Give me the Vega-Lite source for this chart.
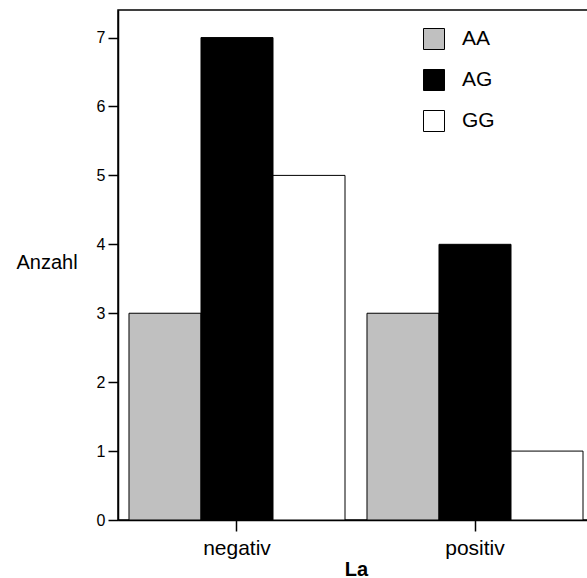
{
  "$schema": "https://vega.github.io/schema/vega-lite/v6.json",
  "width": 476,
  "height": 510,
  "autosize": {"type": "none"},
  "padding": {"left": 118, "top": 10, "right": 0, "bottom": 58},
  "background": "white",
  "config": {
    "font": "Liberation Sans",
    "view": {"stroke": "black", "strokeWidth": 1.5}
  },
  "data": {
    "values": [
      {"La": "negativ", "Genotyp": "AA", "Anzahl": 3},
      {"La": "negativ", "Genotyp": "AG", "Anzahl": 7},
      {"La": "negativ", "Genotyp": "GG", "Anzahl": 5},
      {"La": "positiv", "Genotyp": "AA", "Anzahl": 3},
      {"La": "positiv", "Genotyp": "AG", "Anzahl": 4},
      {"La": "positiv", "Genotyp": "GG", "Anzahl": 1}
    ]
  },
  "mark": {"type": "bar", "stroke": "black", "strokeWidth": 1, "fillOpacity": 1},
  "encoding": {
    "x": {
      "field": "La",
      "type": "nominal",
      "scale": {"paddingInner": 0.0924, "paddingOuter": 0.0462},
      "axis": {
        "title": "La",
        "titleFont": "Liberation Sans",
        "titleFontSize": 20,
        "titleFontWeight": "bold",
        "titleColor": "black",
        "titlePadding": 1,
        "labelAngle": 0,
        "labelFontSize": 21,
        "labelColor": "black",
        "labelPadding": 6,
        "tickSize": 11,
        "tickColor": "black",
        "tickWidth": 1.5,
        "domainColor": "black",
        "domainWidth": 1.5
      }
    },
    "xOffset": {"field": "Genotyp", "type": "nominal", "scale": {"paddingInner": 0, "paddingOuter": 0}},
    "y": {
      "field": "Anzahl",
      "type": "quantitative",
      "scale": {"domain": [0, 7.4], "nice": false},
      "axis": {
        "values": [0, 1, 2, 3, 4, 5, 6, 7],
        "title": "Anzahl",
        "titleAngle": 0,
        "titleAlign": "left",
        "titleBaseline": "middle",
        "titleX": -102,
        "titleY": 252,
        "titleFontSize": 20,
        "titleFontWeight": "normal",
        "titleColor": "black",
        "labelFontSize": 16,
        "labelColor": "black",
        "labelPadding": 3,
        "tickSize": 10,
        "tickColor": "black",
        "tickWidth": 1.5,
        "domainColor": "black",
        "domainWidth": 1.5,
        "grid": false
      }
    },
    "fill": {
      "field": "Genotyp",
      "type": "nominal",
      "scale": {"domain": ["AA", "AG", "GG"], "range": ["#c0c0c0", "#000000", "#ffffff"]},
      "legend": {
        "title": null,
        "orient": "none",
        "legendX": 305,
        "legendY": 18,
        "padding": 0,
        "symbolType": "square",
        "symbolSize": 441,
        "symbolStrokeColor": "black",
        "symbolStrokeWidth": 1,
        "symbolOpacity": 1,
        "symbolFillColor": "white",
        "labelFontSize": 21,
        "labelColor": "black",
        "labelOffset": 17,
        "rowPadding": 15
      }
    }
  }
}
